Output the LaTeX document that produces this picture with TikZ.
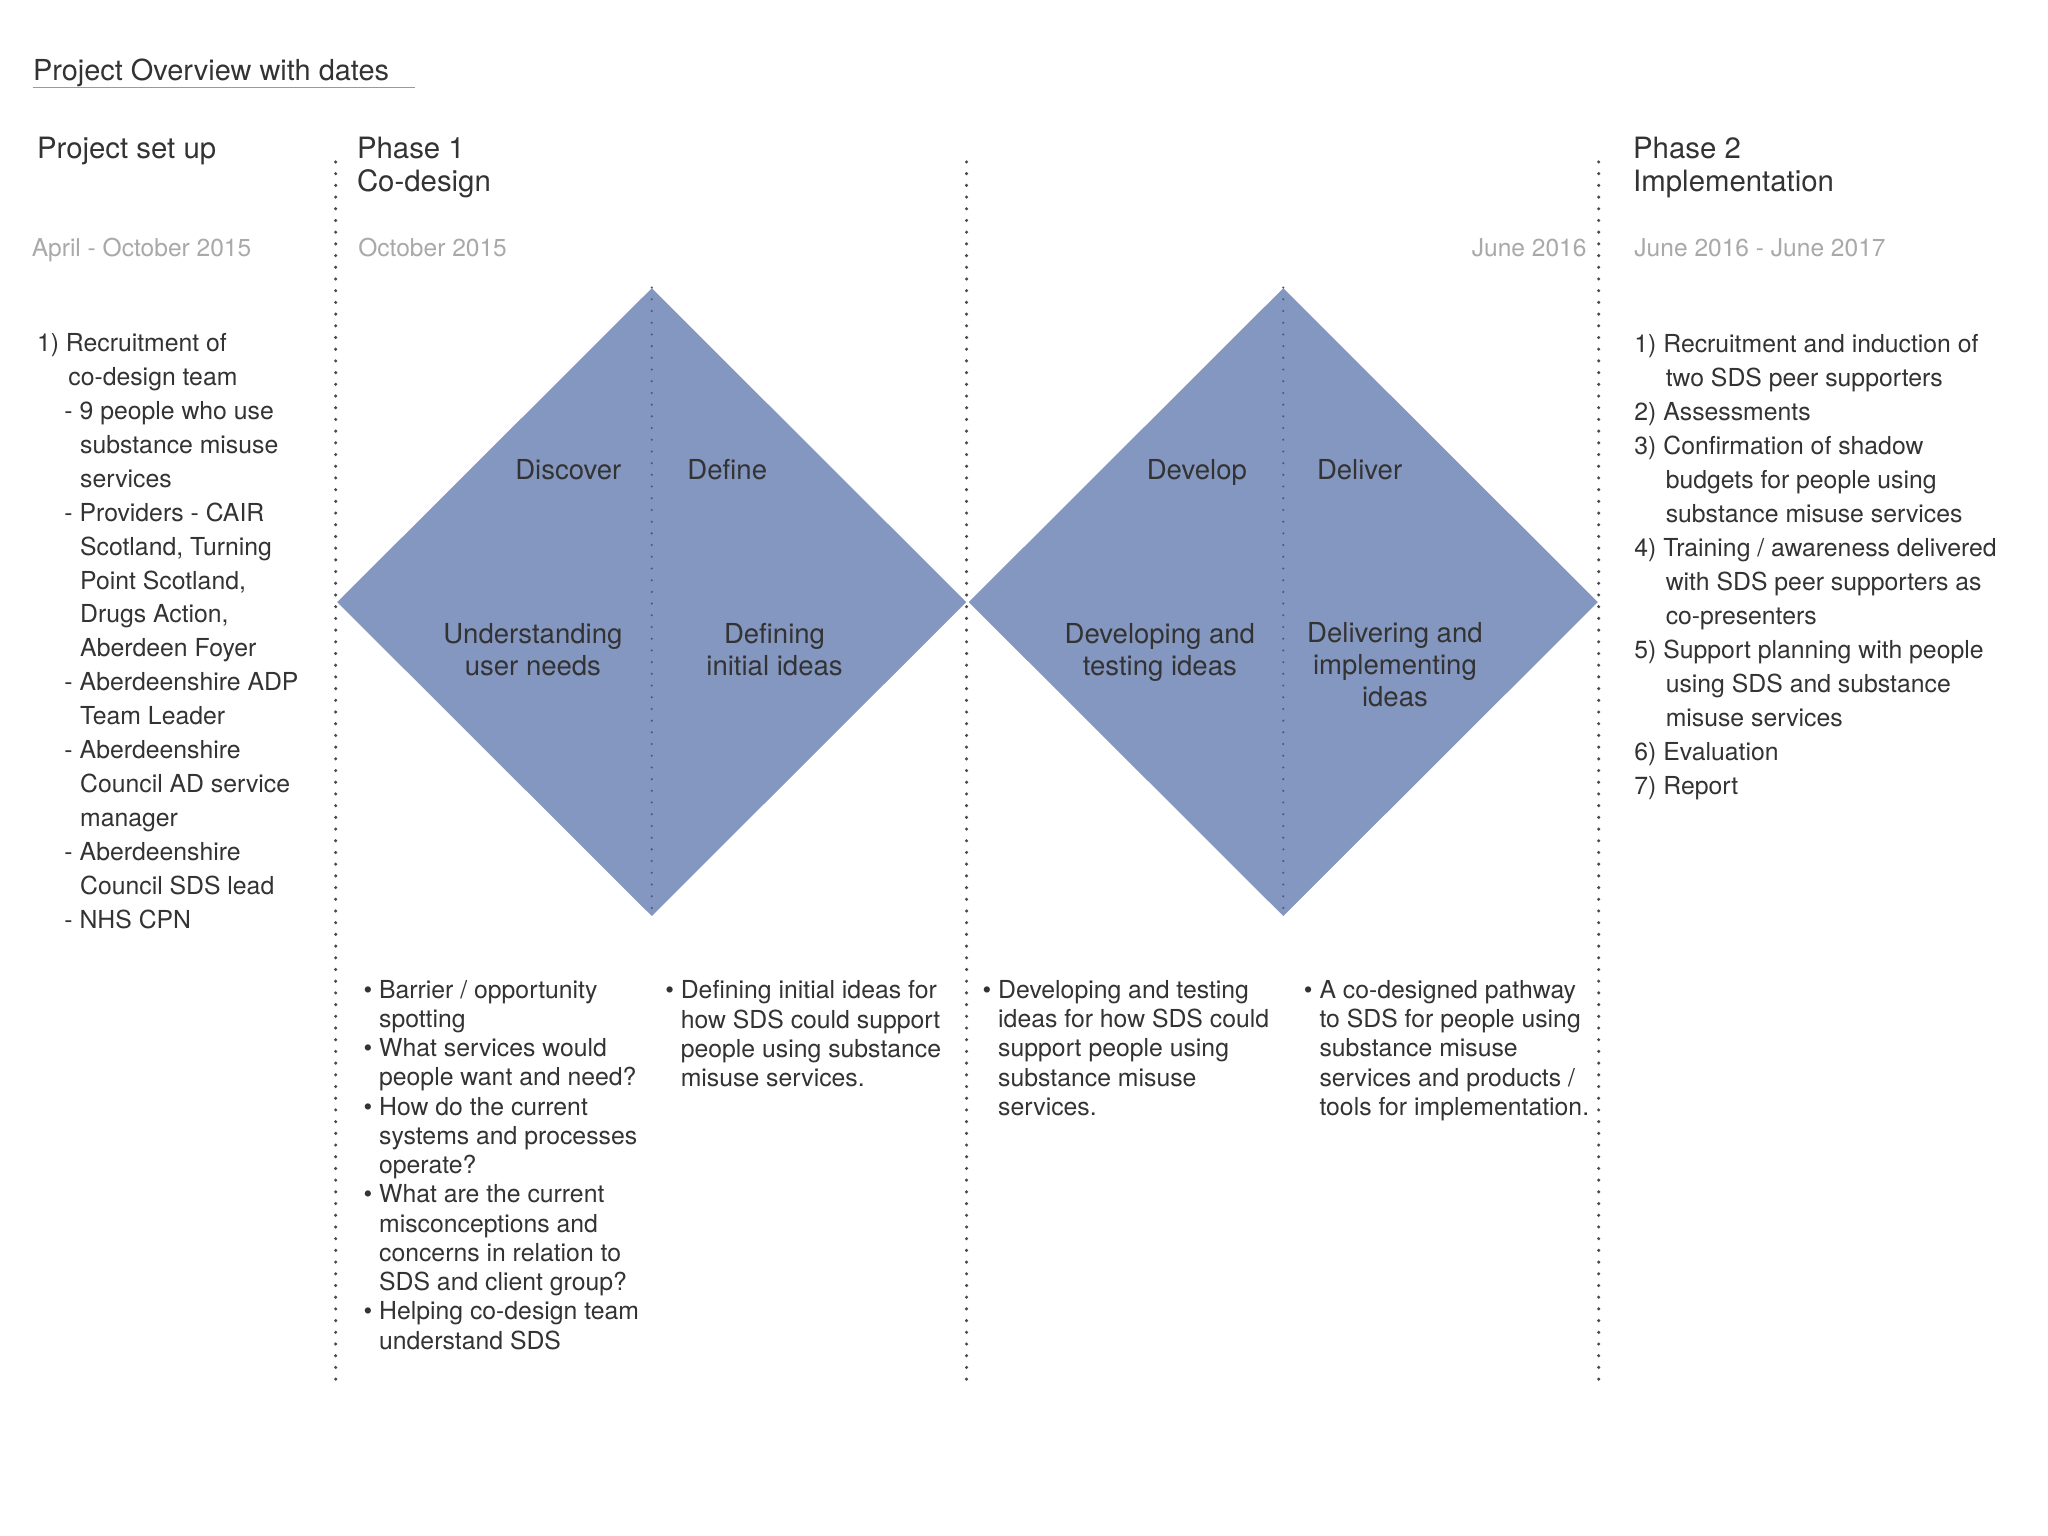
\documentclass[tikz,border=0pt]{standalone}
\usepackage{fontspec}
\setmainfont{TeX Gyre Heros}
\usepackage{xcolor}
\usepackage{tikz}
\usetikzlibrary{
  positioning,
  shapes.geometric
}
\definecolor{inkgray}{HTML}{333333}
\definecolor{dategray}{HTML}{A9A9A9}
\definecolor{rulegray}{HTML}{9A9A9A}
\definecolor{sepgray}{HTML}{4A4A4A}
\definecolor{diablue}{HTML}{8497C1}
\definecolor{divblue}{HTML}{4C5874}
\newcommand\contind{\hspace*{0.48cm}}
\newcommand\dashind{\hspace*{0.42cm}}
\newcommand\dashcont{\hspace*{0.66cm}}
\newcommand\bulind{\hphantom{\textbullet\ }}
\tikzset{
  pagetitle/.style={anchor=base west,inner sep=0,text=inkgray,font=\fontsize{12.6}{15}\selectfont},
  phasehead/.style={anchor=base west,inner sep=0,align=left,text=inkgray,font=\fontsize{12.8}{14.8}\selectfont},
  datelabel/.style={anchor=base west,inner sep=0,text=dategray,font=\fontsize{10.7}{12}\selectfont},
  tasklist/.style={anchor=base west,inner sep=0,align=left,text=inkgray,font=\fontsize{10.8}{14.8}\selectfont},
  bulletlist/.style={anchor=base west,inner sep=0,align=left,text=inkgray,font=\fontsize{10.8}{12.75}\selectfont},
  diamondbox/.style={diamond,aspect=1,fill=diablue,inner sep=0,minimum width=9.64cm,minimum height=9.62cm},
  stagename/.style={inner sep=0,text=inkgray,font=\fontsize{12}{14}\selectfont},
  stagetext/.style={anchor=base,inner sep=0,align=center,text=inkgray,font=\fontsize{12}{13.9}\selectfont},
  phasesep/.style={sepgray,line width=1.5pt,line cap=round,dash pattern=on 0pt off 5.1pt},
  stagesep/.style={divblue,line width=1pt,line cap=round,dash pattern=on 0pt off 5.1pt}
}

\begin{document}
\begin{tikzpicture}[x=0.02cm,y=-0.02cm]
    \fill[white] (0,0) rectangle (1568,1176);
    \useasboundingbox (0,0) rectangle (1568,1176);

    % Title
    \node[pagetitle] (title) at (25,62) {Project Overview with dates};
    \coordinate (ul-a) at (25,67);
    \coordinate (ul-b) at (318,67);
    \draw[rulegray,line width=0.8pt] (ul-a) -- (ul-b);

    % Phase headings and dates (multi-line nodes sit on their last line)
    \node[phasehead] (setup) at (28,121) {Project set up};
    \node[phasehead] (phase1) at (273,147) {Phase 1\\Co-design};
    \node[phasehead] (phase2) at (1250,147) {Phase 2\\Implementation};
    \node[datelabel] (date0) at (24,196) {April - October 2015};
    \node[datelabel] (date1) at (274,196) {October 2015};
    \node[datelabel,anchor=base east] (date2) at (1215,196) {June 2016};
    \node[datelabel] (date3) at (1251,196) {June 2016 - June 2017};

    % Double diamond
    \node[diamondbox] (dA) at (499,461) {};
    \node[diamondbox] (dB) at (982.5,461) {};
    \draw[stagesep] (dA.north) -- (dA.south);
    \draw[stagesep] (dB.north) -- (dB.south);

    % Phase separators
    \foreach \s/\x in {s1/257,s2/740,s3/1224} {
        \coordinate (\s-top) at (\x,124);
        \coordinate (\s-bot) at (\x,1059);
        \draw[phasesep] (\s-top) -- (\s-bot);
    }

    % Stage names (inside the diamonds)
    \node[stagename,anchor=base east] (discover) at (476,367) {Discover};
    \node[stagename,anchor=base west] (define) at (526,367) {Define};
    \node[stagename,anchor=base east] (develop) at (955,367) {Develop};
    \node[stagename,anchor=base west] (deliver) at (1008,367) {Deliver};
    \node[stagetext] (understand) at (408,517) {Understanding\\user needs};
    \node[stagetext] (defining) at (593,517) {Defining\\initial ideas};
    \node[stagetext] (developing) at (888,517) {Developing and\\testing ideas};
    \node[stagetext] (delivering) at (1068,541) {Delivering and\\implementing\\ideas};

    % Set-up tasks (left)
    \node[tasklist] (setuplist) at (28,711) {1) Recruitment of\\
        \contind co-design team\\
        \dashind - 9 people who use\\
        \dashcont substance misuse\\
        \dashcont services\\
        \dashind - Providers - CAIR\\
        \dashcont Scotland, Turning\\
        \dashcont Point Scotland,\\
        \dashcont Drugs Action,\\
        \dashcont Aberdeen Foyer\\
        \dashind - Aberdeenshire ADP\\
        \dashcont Team Leader\\
        \dashind - Aberdeenshire\\
        \dashcont Council AD service\\
        \dashcont manager\\
        \dashind - Aberdeenshire\\
        \dashcont Council SDS lead\\
        \dashind - NHS CPN};

    % Implementation tasks (right)
    \node[tasklist] (impllist) at (1251,608) {1) Recruitment and induction of\\
        \contind two SDS peer supporters\\
        2) Assessments\\
        3) Confirmation of shadow\\
        \contind budgets for people using\\
        \contind substance misuse services\\
        4) Training / awareness delivered\\
        \contind with SDS peer supporters as\\
        \contind co-presenters\\
        5) Support planning with people\\
        \contind using SDS and substance\\
        \contind misuse services\\
        6) Evaluation\\
        7) Report};

    % Stage details (below the diamonds)
    \node[bulletlist] (discoverlist) at (278,1033) {\textbullet\ Barrier / opportunity\\
        \bulind spotting\\
        \textbullet\ What services would\\
        \bulind people want and need?\\
        \textbullet\ How do the current\\
        \bulind systems and processes\\
        \bulind operate?\\
        \textbullet\ What are the current\\
        \bulind misconceptions and\\
        \bulind concerns in relation to\\
        \bulind SDS and client group?\\
        \textbullet\ Helping co-design team\\
        \bulind understand SDS};
    \node[bulletlist] (definelist) at (509,832) {\textbullet\ Defining initial ideas for\\
        \bulind how SDS could support\\
        \bulind people using substance\\
        \bulind misuse services.};
    \node[bulletlist] (developlist) at (752,854) {\textbullet\ Developing and testing\\
        \bulind ideas for how SDS could\\
        \bulind support people using\\
        \bulind substance misuse\\
        \bulind services.};
    \node[bulletlist] (deliverlist) at (998,854) {\textbullet\ A co-designed pathway\\
        \bulind to SDS for people using\\
        \bulind substance misuse\\
        \bulind services and products /\\
        \bulind tools for implementation.};
\end{tikzpicture}
\end{document}
